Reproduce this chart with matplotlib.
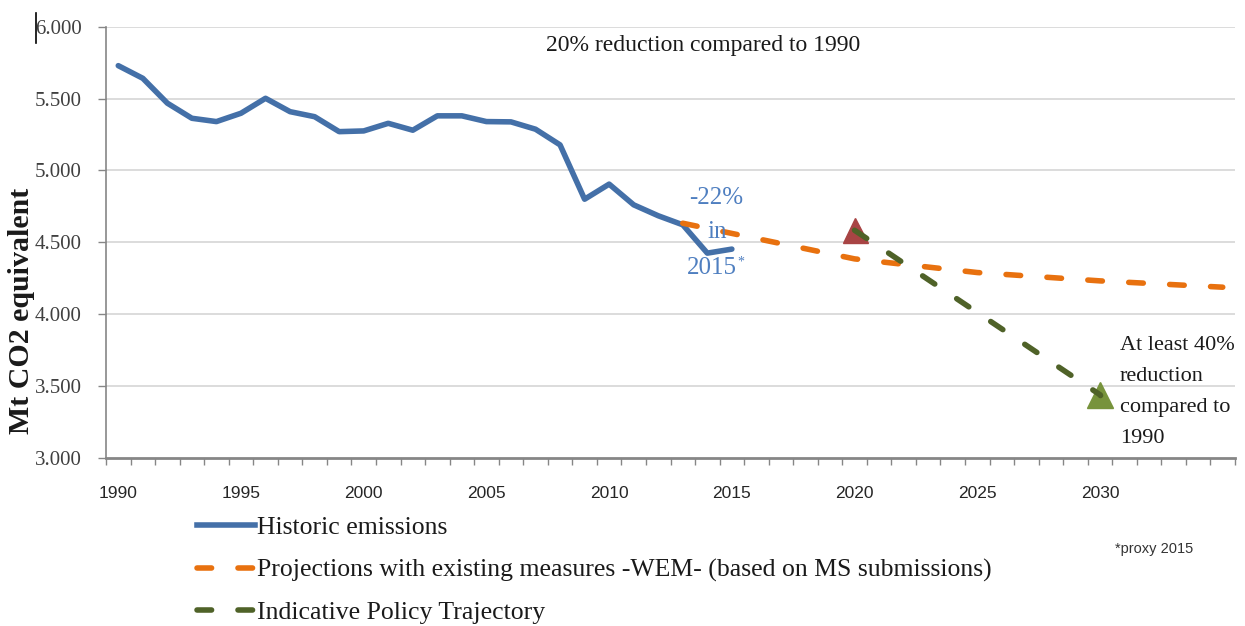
import matplotlib
matplotlib.use("Agg")
import matplotlib.pyplot as plt
from matplotlib.lines import Line2D
from matplotlib.ticker import FuncFormatter, FixedLocator

plt.rcParams['lines.scale_dashes'] = False

# ---- data ----
hist_years = list(range(1990, 2016))
hist_values = [5729, 5641, 5468, 5363, 5340, 5398, 5502, 5409, 5374, 5270,
               5275, 5328, 5280, 5380, 5380, 5340, 5338, 5287, 5178, 4800,
               4905, 4761, 4685, 4622, 4425, 4453]
wem_years = [2013, 2020, 2025, 2030, 2035]
wem_values = [4633, 4385, 4290, 4232, 4188]
ipt_years = [2020, 2030]
ipt_values = [4584, 3440]
target20_year, target20_value = 2020, 4584
target40_year, target40_value = 2030, 3440
x_label_years = [1990, 1995, 2000, 2005, 2010, 2015, 2020, 2025, 2030]
y_ticks = [3000, 3500, 4000, 4500, 5000, 5500, 6000]

BLUE = '#4470A8'
ORANGE = '#E8710F'
GREEN = '#4F6228'
SERIF = ['Liberation Serif', 'DejaVu Serif']
SANS = ['Liberation Sans', 'DejaVu Sans']

fig = plt.figure(figsize=(12.45, 6.26), dpi=100)
ax = fig.add_axes([106/1245, 1-458/626, (1235-106)/1245, (458-26.7)/626])

ax.set_xlim(1989.5, 2035.5)
ax.set_ylim(3000, 6000)

# gridlines
for v in y_ticks[1:]:
    ax.axhline(v, color='#D9D9D9', lw=1.3, zorder=0)

DASH = (10.5, 19)
LW = 4.0
ax.plot(hist_years, hist_values, color=BLUE, lw=LW, solid_joinstyle='round',
        solid_capstyle='round', zorder=3, label='Historic emissions')
ax.plot(wem_years, wem_values, color=ORANGE, lw=LW, dashes=DASH,
        dash_capstyle='round', zorder=4,
        label='Projections with existing measures -WEM- (based on MS submissions)')
ax.plot([target20_year], [target20_value], marker='^', ms=18, color='#A84444',
        mec='#A84444', ls='none', zorder=5)
ax.plot([target40_year], [target40_value], marker='^', ms=19, color='#77933C',
        mec='#77933C', ls='none', zorder=5)
ax.plot(ipt_years, ipt_values, color=GREEN, lw=LW, dashes=DASH,
        dash_capstyle='round', zorder=6, label='Indicative Policy Trajectory')
ax.plot([target40_year], [target40_value], marker='o', ms=3, color=GREEN,
        ls='none', zorder=7)

# spines
for s in ['top', 'right']:
    ax.spines[s].set_visible(False)
ax.spines['left'].set_color('#868686')
ax.spines['left'].set_linewidth(1.2)
ax.spines['bottom'].set_color('#868686')
ax.spines['bottom'].set_linewidth(2.0)

# y ticks
ax.set_yticks(y_ticks)
ax.yaxis.set_major_formatter(FuncFormatter(lambda v, p: f"{int(v)//1000}.{int(v)%1000:03d}"))
ax.tick_params(axis='y', length=6, width=1, color='#868686', pad=11.5,
               labelsize=15, labelcolor='#404040')
for lab in ax.get_yticklabels():
    lab.set_family(SERIF)

# x ticks
ax.set_xticks(x_label_years)
ax.set_xticklabels([str(y) for y in x_label_years])
ax.xaxis.set_minor_locator(FixedLocator([y + 0.5 for y in range(1989, 2036)]))
ax.tick_params(axis='x', which='major', length=0, pad=20, labelsize=12.5,
               labelcolor='#262626')
ax.tick_params(axis='x', which='minor', length=5, width=1, color='#868686')
for lab in ax.get_xticklabels():
    lab.set_family(SANS)

# y label
fig.text(22/1245, 1-311/626, 'Mt CO2 equivalent', rotation=90, ha='center',
         va='center', fontsize=21.5, fontweight='bold', family=SERIF, color='#1a1a1a')

# annotations
fig.text(703/1245, 1-45/626, '20% reduction compared to 1990', fontsize=17,
         family=SERIF, ha='center', va='center', color='#1a1a1a')
fig.text(716/1245, 1-198/626, '-22%', ha='center', va='center', fontsize=18,
         family=SERIF, color='#4F7FC0')
fig.text(717/1245, 1-232/626, 'in', ha='center', va='center', fontsize=18,
         family=SERIF, color='#4F7FC0')
fig.text(712/1245, 1-268/626, '2015', ha='center', va='center', fontsize=18,
         family=SERIF, color='#4F7FC0')
fig.text(737/1245, 1-262/626, '*', ha='left', va='center', fontsize=10,
         family=SERIF, color='#4F7FC0')
fig.text(1120/1245, 1-336/626, 'At least 40%\nreduction\ncompared to\n1990',
         ha='left', va='top', fontsize=16, family=SERIF, color='#1a1a1a',
         linespacing=1.86)
fig.text(1115/1245, 1-549/626, '*proxy 2015', ha='left', va='center',
         fontsize=10.5, family=SANS, color='#333333')

# cursor artifact near top label
fig.add_artist(Line2D([36/1245, 36/1245], [1-13/626, 1-43/626], color='black', lw=1.2))

# legend
handles = [Line2D([], [], color=BLUE, lw=LW),
           Line2D([], [], color=ORANGE, lw=LW, dashes=DASH, dash_capstyle='round'),
           Line2D([], [], color=GREEN, lw=LW, dashes=DASH, dash_capstyle='round')]
labels = ['Historic emissions',
          'Projections with existing measures -WEM- (based on MS submissions)',
          'Indicative Policy Trajectory']
leg = fig.legend(handles, labels, loc='upper left', bbox_to_anchor=(197/1245, 1-516/626),
                 frameon=False, borderpad=0, borderaxespad=0, handlelength=2.25,
                 handletextpad=0.08, labelspacing=0.76,
                 prop={'family': SERIF, 'size': 18.5})
for t in leg.get_texts():
    t.set_color('#1a1a1a')

fig.savefig('out.png', dpi=100)
